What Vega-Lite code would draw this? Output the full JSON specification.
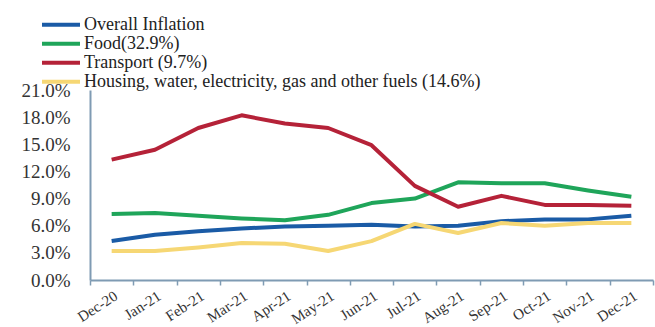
{
  "$schema": "https://vega.github.io/schema/vega-lite/v6.json",
  "autosize": {"type": "none"},
  "padding": {"left": 90, "top": 90, "right": 2, "bottom": 47},
  "width": 563,
  "height": 190,
  "background": "white",
  "config": {
    "font": "Liberation Serif",
    "axis": {"labelFont": "Liberation Serif"},
    "legend": {"labelFont": "Liberation Serif"},
    "view": {"stroke": null}
  },
  "data": {
    "values": [
      {"month": "Dec-20", "series": "Overall Inflation", "value": 4.3},
      {"month": "Jan-21", "series": "Overall Inflation", "value": 5.0},
      {"month": "Feb-21", "series": "Overall Inflation", "value": 5.4},
      {"month": "Mar-21", "series": "Overall Inflation", "value": 5.7},
      {"month": "Apr-21", "series": "Overall Inflation", "value": 5.9},
      {"month": "May-21", "series": "Overall Inflation", "value": 6.0},
      {"month": "Jun-21", "series": "Overall Inflation", "value": 6.1},
      {"month": "Jul-21", "series": "Overall Inflation", "value": 5.9},
      {"month": "Aug-21", "series": "Overall Inflation", "value": 6.0},
      {"month": "Sep-21", "series": "Overall Inflation", "value": 6.5},
      {"month": "Oct-21", "series": "Overall Inflation", "value": 6.7},
      {"month": "Nov-21", "series": "Overall Inflation", "value": 6.7},
      {"month": "Dec-21", "series": "Overall Inflation", "value": 7.1},
      {"month": "Dec-20", "series": "Food(32.9%)", "value": 7.3},
      {"month": "Jan-21", "series": "Food(32.9%)", "value": 7.4},
      {"month": "Feb-21", "series": "Food(32.9%)", "value": 7.1},
      {"month": "Mar-21", "series": "Food(32.9%)", "value": 6.8},
      {"month": "Apr-21", "series": "Food(32.9%)", "value": 6.6},
      {"month": "May-21", "series": "Food(32.9%)", "value": 7.2},
      {"month": "Jun-21", "series": "Food(32.9%)", "value": 8.5},
      {"month": "Jul-21", "series": "Food(32.9%)", "value": 9.0},
      {"month": "Aug-21", "series": "Food(32.9%)", "value": 10.8},
      {"month": "Sep-21", "series": "Food(32.9%)", "value": 10.7},
      {"month": "Oct-21", "series": "Food(32.9%)", "value": 10.7},
      {"month": "Nov-21", "series": "Food(32.9%)", "value": 9.9},
      {"month": "Dec-21", "series": "Food(32.9%)", "value": 9.2},
      {"month": "Dec-20", "series": "Transport (9.7%)", "value": 13.3},
      {"month": "Jan-21", "series": "Transport (9.7%)", "value": 14.4},
      {"month": "Feb-21", "series": "Transport (9.7%)", "value": 16.8},
      {"month": "Mar-21", "series": "Transport (9.7%)", "value": 18.2},
      {"month": "Apr-21", "series": "Transport (9.7%)", "value": 17.3},
      {"month": "May-21", "series": "Transport (9.7%)", "value": 16.8},
      {"month": "Jun-21", "series": "Transport (9.7%)", "value": 14.9},
      {"month": "Jul-21", "series": "Transport (9.7%)", "value": 10.4},
      {"month": "Aug-21", "series": "Transport (9.7%)", "value": 8.1},
      {"month": "Sep-21", "series": "Transport (9.7%)", "value": 9.3},
      {"month": "Oct-21", "series": "Transport (9.7%)", "value": 8.3},
      {"month": "Nov-21", "series": "Transport (9.7%)", "value": 8.3},
      {"month": "Dec-21", "series": "Transport (9.7%)", "value": 8.2},
      {"month": "Dec-20", "series": "Housing, water, electricity, gas and other fuels (14.6%)", "value": 3.2},
      {"month": "Jan-21", "series": "Housing, water, electricity, gas and other fuels (14.6%)", "value": 3.2},
      {"month": "Feb-21", "series": "Housing, water, electricity, gas and other fuels (14.6%)", "value": 3.6},
      {"month": "Mar-21", "series": "Housing, water, electricity, gas and other fuels (14.6%)", "value": 4.1},
      {"month": "Apr-21", "series": "Housing, water, electricity, gas and other fuels (14.6%)", "value": 4.0},
      {"month": "May-21", "series": "Housing, water, electricity, gas and other fuels (14.6%)", "value": 3.2},
      {"month": "Jun-21", "series": "Housing, water, electricity, gas and other fuels (14.6%)", "value": 4.3},
      {"month": "Jul-21", "series": "Housing, water, electricity, gas and other fuels (14.6%)", "value": 6.2},
      {"month": "Aug-21", "series": "Housing, water, electricity, gas and other fuels (14.6%)", "value": 5.2},
      {"month": "Sep-21", "series": "Housing, water, electricity, gas and other fuels (14.6%)", "value": 6.3},
      {"month": "Oct-21", "series": "Housing, water, electricity, gas and other fuels (14.6%)", "value": 6.0},
      {"month": "Nov-21", "series": "Housing, water, electricity, gas and other fuels (14.6%)", "value": 6.3},
      {"month": "Dec-21", "series": "Housing, water, electricity, gas and other fuels (14.6%)", "value": 6.3}
    ]
  },
  "mark": {"type": "line", "strokeWidth": 4, "strokeJoin": "round"},
  "encoding": {
    "x": {
      "field": "month",
      "type": "ordinal",
      "sort": null,
      "bandPosition": 0.5,
      "scale": {"type": "band", "paddingInner": 0, "paddingOuter": 0},
      "axis": {
        "title": null,
        "labelAngle": -33,
        "labelFontSize": 15,
        "labelColor": "#333333",
        "labelPadding": 3,
        "tickBand": "extent",
        "ticks": true,
        "tickSize": 5,
        "tickColor": "#7f9bb3",
        "tickWidth": 1.5,
        "domainColor": "#7f9bb3",
        "domainWidth": 2,
        "grid": false
      }
    },
    "y": {
      "field": "value",
      "type": "quantitative",
      "scale": {"domain": [0, 21], "nice": false},
      "axis": {
        "title": null,
        "values": [0, 3, 6, 9, 12, 15, 18, 21],
        "labelExpr": "format(datum.value, '.1f') + '%'",
        "labelFontSize": 19,
        "labelColor": "#333333",
        "labelPadding": 20,
        "ticks": false,
        "grid": false,
        "domainColor": "#7f9bb3",
        "domainWidth": 2
      }
    },
    "color": {
      "field": "series",
      "type": "nominal",
      "scale": {
        "domain": ["Overall Inflation", "Food(32.9%)", "Transport (9.7%)", "Housing, water, electricity, gas and other fuels (14.6%)"],
        "range": ["#1a5ba6", "#1fa55a", "#b52238", "#f6d774"]
      },
      "legend": {
        "title": null,
        "orient": "none",
        "legendX": -50,
        "legendY": -74,
        "symbolType": "stroke",
        "symbolSize": 1444,
        "symbolStrokeWidth": 4,
        "clipHeight": 17.5,
        "labelFontSize": 18,
        "labelColor": "#222222",
        "labelOffset": 2,
        "rowPadding": 0,
        "labelLimit": 600
      }
    }
  }
}
